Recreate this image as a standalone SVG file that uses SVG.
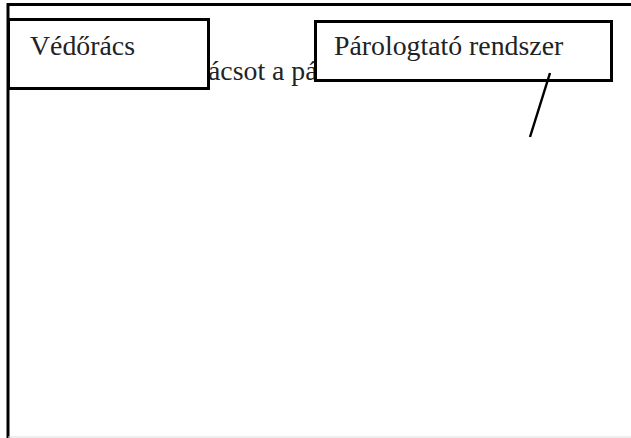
<svg xmlns="http://www.w3.org/2000/svg" width="631" height="438" viewBox="0 0 631 438">
<style>
.box{fill:#fff;stroke:#000;stroke-width:3}
.t{font-family:"Liberation Serif","Times New Roman",serif;font-size:27.8px;fill:#222}
.frame{stroke:#000;stroke-width:3;fill:none}
.conn{stroke:#000;stroke-width:2.5;fill:none}
</style>
<rect x="0" y="0" width="631" height="438" fill="#fff"/>
<g id="frame">
<path class="frame" d="M8,438 V4.5 H631"/>
<line x1="8" y1="437" x2="631" y2="437" stroke="#ddd" stroke-width="1"/>
</g>
<text class="t" x="208" y="80">ácsot a pá</text>
<g id="vedoracs">
<rect class="box" x="8.5" y="19.5" width="200" height="69"/>
<text class="t" x="30" y="55">Védőrács</text>
</g>
<g id="parologtato">
<rect class="box" x="315.5" y="21.5" width="296" height="59"/>
<text class="t" x="334" y="55">Párologtató rendszer</text>
</g>
<g id="connectors">
<line class="conn" x1="550" y1="73" x2="530" y2="137"/>
</g>
</svg>
